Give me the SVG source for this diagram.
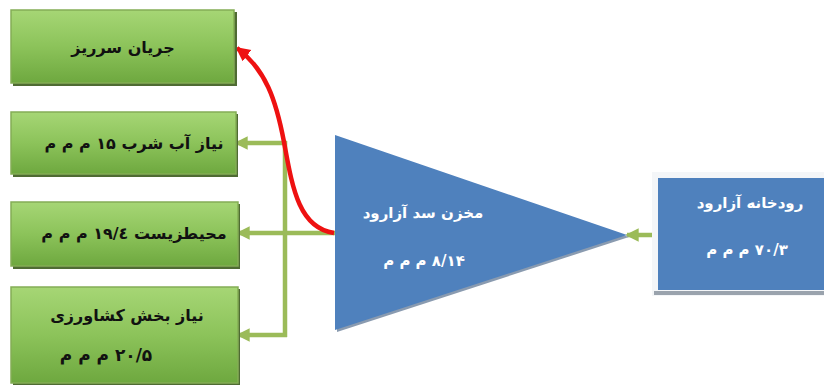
<svg xmlns="http://www.w3.org/2000/svg" width="824" height="385" viewBox="0 0 824 385">
<defs>
<linearGradient id="gg" x1="0" y1="0" x2="0" y2="1">
<stop offset="0" stop-color="#a6d675"/>
<stop offset="0.5" stop-color="#8cc35a"/>
<stop offset="1" stop-color="#6ea83f"/>
</linearGradient>
<marker id="ag" markerWidth="3.2" markerHeight="3.2" refX="2.6" refY="1.5" orient="auto" markerUnits="strokeWidth">
<path d="M0,0 L3,1.5 L0,3 Z" fill="#9bbb59"/>
</marker>
<marker id="ar" markerWidth="3.4" markerHeight="3.4" refX="2.8" refY="1.6" orient="auto" markerUnits="strokeWidth">
<path d="M0,0 L3.2,1.6 L0,3.2 Z" fill="#ee1111"/>
</marker>
<style>
.box{fill:url(#gg);stroke:#84ad55;stroke-width:1.5}
.sh{fill:#4f6b33}
.t{font-family:"DejaVu Sans",sans-serif;font-weight:bold;font-size:16px;fill:#111;text-anchor:middle}
.w{font-family:"DejaVu Sans",sans-serif;font-weight:bold;font-size:15px;fill:#fff;text-anchor:middle}
.g{fill:none;stroke:#9bbb59;stroke-width:4.5}
</style>
</defs>
<g id="connectors">
<path class="g" d="M335,233 L238,233" marker-end="url(#ag)"/>
<path class="g" d="M285,141 L285,337"/>
<path class="g" d="M287,143 L236,143" marker-end="url(#ag)"/>
<path class="g" d="M287,335 L238,335" marker-end="url(#ag)"/>
<path class="g" d="M658,235 L627,235" marker-end="url(#ag)"/>
<path d="M334,233 C298,228 292,185 284,142 C276,100 266,70 237,48" fill="none" stroke="#ee1111" stroke-width="4.5" marker-end="url(#ar)"/>
</g>
<g id="n1">
<rect class="sh" x="13" y="12" width="224" height="74"/>
<rect class="box" x="11" y="10" width="223" height="73"/>
<text class="t" x="123" y="53" direction="rtl">جریان سرریز</text>
</g>
<g id="n2">
<rect class="sh" x="13" y="114" width="225" height="63"/>
<rect class="box" x="11" y="112" width="225" height="62"/>
<text class="t" x="134" y="149" direction="rtl">نیاز آب شرب ۱۵ م م م</text>
</g>
<g id="n3">
<rect class="sh" x="13" y="204" width="227" height="65"/>
<rect class="box" x="11" y="202" width="227" height="64"/>
<text class="t" x="134" y="239" direction="rtl">محیطزیست ۱۹/٤ م م م</text>
</g>
<g id="n4">
<rect class="sh" x="13" y="289" width="227" height="96"/>
<rect class="box" x="11" y="287" width="227" height="96"/>
<text class="t" x="127" y="321" direction="rtl">نیاز بخش کشاورزی</text>
<text class="t" x="106" y="361" direction="rtl" style="font-size:17px;letter-spacing:2px">۲۰/۵ م م م</text>
</g>
<g id="n5">
<path d="M337,137 L629,237 L337,332 Z" fill="#8a9bb0"/>
<path d="M335,135 L627,235 L335,330 Z" fill="#4f81bd"/>
<text class="w" x="423" y="218" direction="rtl">مخزن سد آزارود</text>
<text class="w" x="424" y="266" direction="rtl">۸/۱۴ م م م</text>
</g>
<g id="n6">
<rect x="652" y="172" width="180" height="124" fill="#f4f6f8"/>
<rect x="654" y="291" width="180" height="4" fill="#9aa3ad"/>
<rect x="658" y="178" width="170" height="112" fill="#4f81bd"/>
<text class="w" x="750" y="208" direction="rtl">رودخانه آزارود</text>
<text class="w" x="747" y="255" direction="rtl">۷۰/۳ م م م</text>
</g>
</svg>
